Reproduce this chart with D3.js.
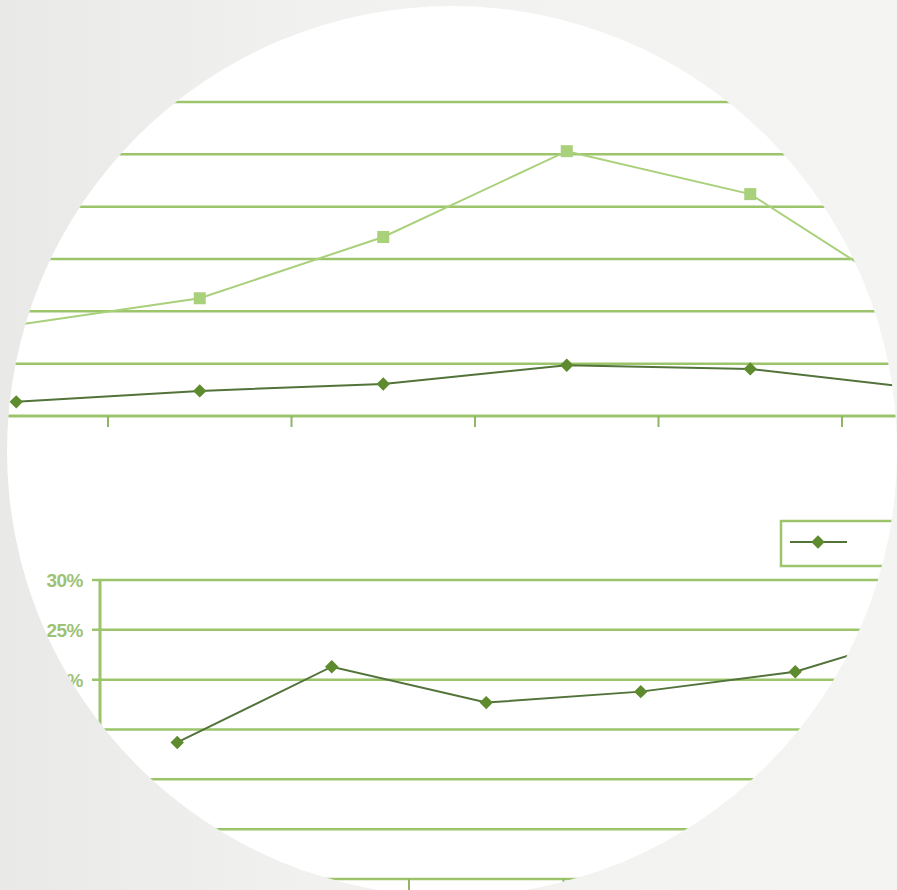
<!DOCTYPE html>
<html>
<head>
<meta charset="utf-8">
<script src="https://cdn.jsdelivr.net/npm/d3@7"></script>
<style>
  html, body { margin: 0; padding: 0; background: #f2f2f0; }
  svg { display: block; }
</style>
</head>
<body>
<div id="chart"></div>
<script>
"use strict";

// top chart: two series, no visible labels
var topCategories = ["c1", "c2", "c3", "c4", "c5", "c6"];
var topDark  = [0.27, 0.48, 0.61, 0.97, 0.90, 0.50];
var topLight = [1.74, 2.25, 3.42, 5.06, 4.24, 1.99];
var topGrid  = [1, 2, 3, 4, 5, 6];

// bottom chart: one series in percent
var botCategories = ["c1", "c2", "c3", "c4", "c5", "c6"];
var botValues = [13.7, 21.3, 17.7, 18.8, 20.8, 25.5];
var botTicks  = [0, 5, 10, 15, 20, 25, 30];

var W = 897, H = 890;
var gridColor = "#9cc46b";
var darkColor = "#5d8b2e";
var darkLine  = "#52733a";
var lightColor = "#a9d07a";

var svg = d3.select("#chart").append("svg")
    .attr("width", W)
    .attr("height", H);

// background
var defs = svg.append("defs");
var bg = defs.append("linearGradient").attr("id", "bgGrad")
    .attr("x1", "0").attr("y1", "0").attr("x2", "1").attr("y2", "0");
bg.append("stop").attr("offset", "0").attr("stop-color", "#e9e9e8");
bg.append("stop").attr("offset", "0.35").attr("stop-color", "#f1f1f0");
bg.append("stop").attr("offset", "1").attr("stop-color", "#f4f4f2");
svg.append("rect").attr("width", W).attr("height", H).attr("fill", "url(#bgGrad)");

// white disc that frames everything
var cx = 452, cy = 451, r = 445;
svg.append("circle").attr("cx", cx).attr("cy", cy).attr("r", r).attr("fill", "#ffffff");
defs.append("clipPath").attr("id", "disc")
    .append("circle").attr("cx", cx).attr("cy", cy).attr("r", r);

var g = svg.append("g").attr("clip-path", "url(#disc)");

// square turned 45 degrees = diamond marker
var diamond = d3.symbol().type(d3.symbolSquare).size(90);
function diamondAt(x, y) {
    return "translate(" + x + "," + y + ") rotate(45)";
}

// ---------- top chart ----------
var xTop = d3.scaleBand().domain(topCategories).range([-75.5, 1025.5]).padding(0);
var yTop = d3.scaleLinear().domain([0, 6]).range([416, 102]);

var gTop = g.append("g").attr("class", "gTop");

gTop.selectAll(".grid").data(topGrid).enter().append("line")
    .attr("x1", 0).attr("x2", W)
    .attr("y1", function(d){ return yTop(d); })
    .attr("y2", function(d){ return yTop(d); })
    .attr("stroke", gridColor).attr("stroke-width", 2.5);

// x axis with ticks on the band edges
gTop.append("line")
    .attr("x1", 0).attr("x2", W)
    .attr("y1", yTop(0)).attr("y2", yTop(0))
    .attr("stroke", gridColor).attr("stroke-width", 3);
gTop.selectAll(".tick").data(topCategories).enter().append("line")
    .attr("x1", function(d){ return xTop(d) + xTop.bandwidth(); })
    .attr("x2", function(d){ return xTop(d) + xTop.bandwidth(); })
    .attr("y1", yTop(0)).attr("y2", yTop(0) + 11)
    .attr("stroke", "#8fb46a").attr("stroke-width", 2);

var lineTop = d3.line()
    .x(function(d, i){ return xTop(topCategories[i]) + xTop.bandwidth() / 2; })
    .y(function(d){ return yTop(d); });

gTop.append("path").datum(topLight)
    .attr("d", lineTop).attr("fill", "none")
    .attr("stroke", lightColor).attr("stroke-width", 2);
gTop.selectAll(".sq").data(topLight).enter().append("rect")
    .attr("x", function(d, i){ return xTop(topCategories[i]) + xTop.bandwidth() / 2 - 6; })
    .attr("y", function(d){ return yTop(d) - 6; })
    .attr("width", 12).attr("height", 12)
    .attr("fill", lightColor);

gTop.append("path").datum(topDark)
    .attr("d", lineTop).attr("fill", "none")
    .attr("stroke", darkLine).attr("stroke-width", 2);
gTop.selectAll(".dm").data(topDark).enter().append("path")
    .attr("d", diamond)
    .attr("transform", function(d, i){
        return diamondAt(xTop(topCategories[i]) + xTop.bandwidth() / 2, yTop(d));
    })
    .attr("fill", darkColor);

// ---------- bottom chart ----------
var xBot = d3.scaleBand().domain(botCategories).range([100, 100 + 6 * 154.5]).padding(0);
var yBot = d3.scaleLinear().domain([0, 30]).range([879, 580]);

var gBot = g.append("g").attr("class", "gBot");

gBot.selectAll(".grid").data(botTicks).enter().append("line")
    .attr("x1", 92).attr("x2", W)
    .attr("y1", function(d){ return yBot(d); })
    .attr("y2", function(d){ return yBot(d); })
    .attr("stroke", gridColor).attr("stroke-width", 2.5);

gBot.append("line")
    .attr("x1", 100).attr("x2", 100)
    .attr("y1", yBot(30)).attr("y2", yBot(0))
    .attr("stroke", gridColor).attr("stroke-width", 3);

gBot.selectAll(".ylab").data(botTicks).enter().append("text")
    .attr("x", 83)
    .attr("y", function(d){ return yBot(d); })
    .attr("dy", "0.36em")
    .attr("text-anchor", "end")
    .attr("font-family", "Liberation Sans, Arial, sans-serif")
    .attr("font-weight", "bold")
    .attr("font-size", 19)
    .attr("letter-spacing", -0.5)
    .attr("fill", "#9dc276")
    .text(function(d){ return d + "%"; });

gBot.selectAll(".tick").data(botCategories).enter().append("line")
    .attr("x1", function(d){ return xBot(d) + xBot.bandwidth(); })
    .attr("x2", function(d){ return xBot(d) + xBot.bandwidth(); })
    .attr("y1", yBot(0)).attr("y2", yBot(0) + 11)
    .attr("stroke", "#8fb46a").attr("stroke-width", 2);

var lineBot = d3.line()
    .x(function(d, i){ return xBot(botCategories[i]) + xBot.bandwidth() / 2; })
    .y(function(d){ return yBot(d); });

gBot.append("path").datum(botValues)
    .attr("d", lineBot).attr("fill", "none")
    .attr("stroke", darkLine).attr("stroke-width", 2);
gBot.selectAll(".dm").data(botValues).enter().append("path")
    .attr("d", diamond)
    .attr("transform", function(d, i){
        return diamondAt(xBot(botCategories[i]) + xBot.bandwidth() / 2, yBot(d));
    })
    .attr("fill", darkColor);

// legend (text lies outside the disc)
var gLegend = gBot.append("g").attr("transform", "translate(781,521)");
gLegend.append("rect")
    .attr("width", 160).attr("height", 45)
    .attr("fill", "#ffffff")
    .attr("stroke", gridColor).attr("stroke-width", 2.5);
gLegend.append("line")
    .attr("x1", 9).attr("x2", 66).attr("y1", 21).attr("y2", 21)
    .attr("stroke", darkLine).attr("stroke-width", 2);
gLegend.append("path").attr("d", diamond)
    .attr("transform", diamondAt(37, 21))
    .attr("fill", darkColor);
</script>
</body>
</html>
